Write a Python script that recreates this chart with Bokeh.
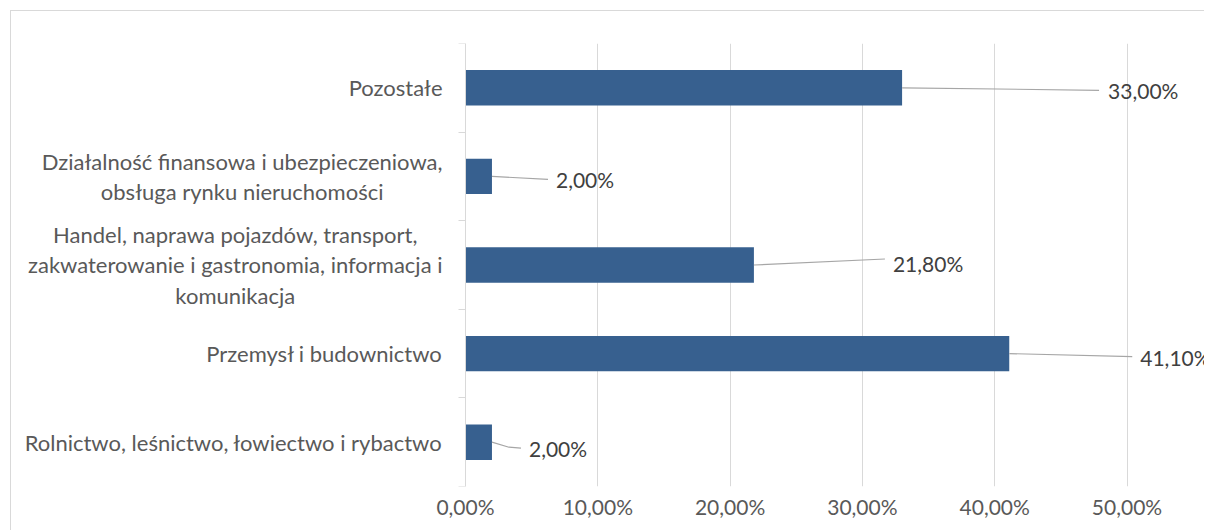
from bokeh.plotting import figure
from bokeh.models import Range1d, FixedTicker, ColumnDataSource
from bokeh.core.properties import value
from bokeh.embed import file_html
from bokeh.resources import INLINE

# ---- data (bottom to top, as Excel draws categories) ----
categories = [
    "Rolnictwo, leśnictwo, łowiectwo i rybactwo",
    "Przemysł i budownictwo",
    "Handel, naprawa pojazdów, transport,\nzakwaterowanie i gastronomia, informacja i\nkomunikacja",
    "Działalność finansowa i ubezpieczeniowa,\nobsługa rynku nieruchomości",
    "Pozostałe",
]
shares = [0.020, 0.411, 0.218, 0.020, 0.330]
value_labels = ["2,00%", "41,10%", "21,80%", "2,00%", "33,00%"]
x_ticks = [0.0, 0.1, 0.2, 0.3, 0.4, 0.5]
x_tick_labels = ["0,00%", "10,00%", "20,00%", "30,00%", "40,00%", "50,00%"]

# ---- layout / style ----
W, H = 1194, 520
AXIS_X = 454             # canvas pixels left of the value axis (category-label area)
FONT = "Lato"
FS = "21px"
FS_CAT = "22px"
PX_X = 1323.0   # pixels per 1.0 (100%) on x
PX_Y = 88.5     # pixels per category band
TOP, BOTTOM = 32, 45
# manual data-label placement (pixel offsets from bar end, +dy = down)
leader_px = [
    [(0, 0), (17, 5), (29, 6)],
    [(0, 0), (123, 3)],
    [(0, 0), (131, -6)],
    [(0, 0), (56, 3)],
    [(0, 0), (197, 2.5)],
]
label_px = [(37, 6.5), (131, 4), (139, -2), (64, 3), (206, 3)]

idx = list(range(len(categories)))

p = figure(
    width=W, height=H, output_backend="svg", toolbar_location=None,
    x_range=Range1d(-AXIS_X / PX_X, (W - AXIS_X) / PX_X),
    y_range=Range1d(-0.5, len(categories) - 0.5),
    min_border_left=0, min_border_right=0, min_border_top=TOP, min_border_bottom=BOTTOM,
)
p.margin = (10, 0, 0, 10)
p.styles = {"border-top": "1px solid #D9D9D9", "border-left": "1px solid #D9D9D9"}
p.outline_line_color = None

# vertical gridlines at the value ticks
p.ygrid.grid_line_color = None
p.xgrid.ticker = FixedTicker(ticks=x_ticks)
p.xgrid.grid_line_color = "#D9D9D9"
p.xgrid.grid_line_width = 1

# value axis (labels only)
p.xaxis.ticker = FixedTicker(ticks=x_ticks)
p.xaxis.major_label_overrides = {t: l for t, l in zip(x_ticks, x_tick_labels)}
p.xaxis.axis_line_color = None
p.xaxis.major_tick_line_color = None
p.xaxis.minor_tick_line_color = None
p.xaxis.major_label_text_font = FONT
p.xaxis.major_label_text_font_size = FS
p.xaxis.major_label_text_color = "#595959"
p.xaxis.major_label_standoff = 1

# category axis line at x = 0 with ticks between categories
p.yaxis.fixed_location = 0
p.yaxis.ticker = FixedTicker(ticks=[i - 0.5 for i in range(len(categories) + 1)])
p.yaxis.major_label_overrides = {i - 0.5: " " for i in range(len(categories) + 1)}
p.yaxis.major_label_text_font_size = "1px"
p.yaxis.major_label_standoff = 0
p.yaxis.axis_line_color = "#D9D9D9"
p.yaxis.major_tick_line_color = "#D9D9D9"
p.yaxis.major_tick_out = 7
p.yaxis.major_tick_in = 0
p.yaxis.minor_tick_line_color = None

# bars
src = ColumnDataSource(dict(y=idx, share=shares))
p.hbar(y="y", left=0, right="share", height=0.4, source=src,
       fill_color="#37608F", line_color=None)

# category labels: block right-aligned next to the axis, lines centred
csrc = ColumnDataSource(dict(x=[0] * len(categories), y=idx, text=categories))
p.text(x="x", y="y", text="text", source=csrc, x_offset=-23,
       anchor=value("center_right"), text_align="center", text_baseline="middle",
       text_font=value(FONT), text_font_size=FS_CAT, text_color="#595959",
       text_line_height=1.13)

# leader lines
xs = [[s + dx / PX_X for dx, dy in pts] for s, pts in zip(shares, leader_px)]
ys = [[i - dy / PX_Y for dx, dy in pts] for i, pts in zip(idx, leader_px)]
p.multi_line(xs=xs, ys=ys, line_color="#A6A6A6", line_width=1.2)

# data labels
lsrc = ColumnDataSource(dict(
    x=shares, y=idx, text=value_labels,
    xo=[d[0] for d in label_px], yo=[d[1] for d in label_px],
))
p.text(x="x", y="y", text="text", x_offset="xo", y_offset="yo", source=lsrc,
       text_font=value(FONT), text_font_size=FS, text_color="#404040",
       text_baseline="middle", text_align="left")

open("out.html", "w").write(file_html(p, INLINE))
